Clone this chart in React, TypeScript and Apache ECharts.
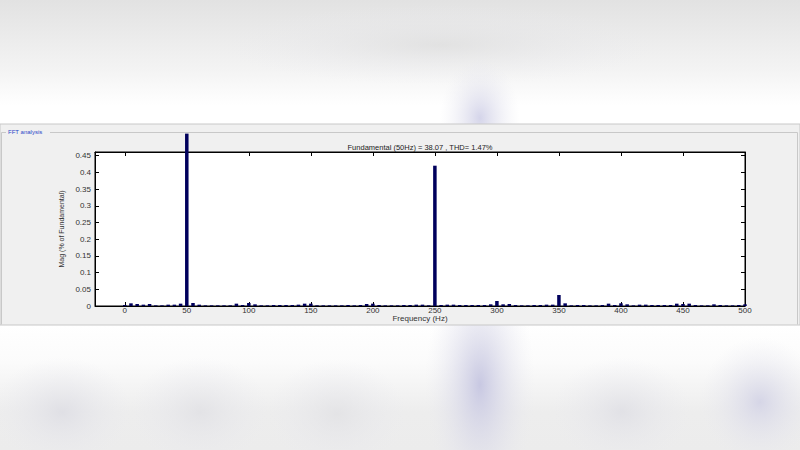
import React, { useEffect, useRef } from "react";
import * as echarts from "echarts";

// Harmonic frequencies (Hz), every 5 Hz from 0 to 500
const frequencies: number[] = [
  0, 5, 10, 15, 20, 25, 30, 35, 40, 45,
  50, 55, 60, 65, 70, 75, 80, 85, 90, 95,
  100, 105, 110, 115, 120, 125, 130, 135, 140, 145,
  150, 155, 160, 165, 170, 175, 180, 185, 190, 195,
  200, 205, 210, 215, 220, 225, 230, 235, 240, 245,
  250, 255, 260, 265, 270, 275, 280, 285, 290, 295,
  300, 305, 310, 315, 320, 325, 330, 335, 340, 345,
  350, 355, 360, 365, 370, 375, 380, 385, 390, 395,
  400, 405, 410, 415, 420, 425, 430, 435, 440, 445,
  450, 455, 460, 465, 470, 475, 480, 485, 490, 495,
  500,
];

// Magnitudes (% of fundamental)
const magnitudes: number[] = [
  0.003, 0.008, 0.006, 0.004, 0.006, 0.002, 0.002, 0.004, 0.004, 0.007,
  0.516, 0.009, 0.004, 0.002, 0.002, 0.002, 0.002, 0.002, 0.007, 0.003,
  0.009, 0.005, 0.002, 0.002, 0.003, 0.003, 0.003, 0.003, 0.004, 0.007,
  0.007, 0.002, 0.002, 0.002, 0.002, 0.002, 0.003, 0.002, 0.003, 0.006,
  0.007, 0.003, 0.002, 0.002, 0.002, 0.003, 0.003, 0.004, 0.004, 0.002,
  0.42, 0.003, 0.004, 0.004, 0.003, 0.003, 0.003, 0.003, 0.003, 0.005,
  0.015, 0.005, 0.006, 0.003, 0.002, 0.002, 0.003, 0.003, 0.004, 0.004,
  0.033, 0.008, 0.002, 0.003, 0.003, 0.002, 0.002, 0.003, 0.007, 0.003,
  0.008, 0.005, 0.002, 0.004, 0.004, 0.003, 0.003, 0.003, 0.003, 0.007,
  0.006, 0.007, 0.003, 0.002, 0.002, 0.005, 0.003, 0.002, 0.002, 0.003,
  0.005,
];

const xTicks: number[] = [0, 50, 100, 150, 200, 250, 300, 350, 400, 450, 500];
const yTicks: number[] = [0, 0.05, 0.1, 0.15, 0.2, 0.25, 0.3, 0.35, 0.4, 0.45];

const titleText = "Fundamental (50Hz) = 38.07 , THD= 1.47%";
const panelTitle = "FFT analysis";
const xName = "Frequency (Hz)";
const yName = "Mag (% of Fundamental)";

const FONT = "'Liberation Sans', Arial, sans-serif";

function blob(cx: number, cy: number, rx: number, ry: number, color: string) {
  return {
    type: "ellipse",
    z: -20,
    silent: true,
    shape: { cx, cy, rx, ry },
    style: {
      fill: {
        type: "radial",
        x: 0.5,
        y: 0.5,
        r: 0.5,
        colorStops: [
          { offset: 0, color },
          { offset: 1, color: "rgba(235,235,240,0)" },
        ],
      },
    },
  };
}

export default function App() {
  const ref = useRef<HTMLDivElement>(null);

  useEffect(() => {
    document.body.style.margin = "0";
    if (!ref.current) return;
    const chart = echarts.init(ref.current, undefined, { renderer: "svg" });

    const axisText = { color: "#333", fontSize: 8, fontFamily: FONT };

    chart.setOption({
      animation: false,
      backgroundColor: "#ffffff",
      textStyle: { fontFamily: FONT },
      title: {
        text: titleText,
        left: 420,
        top: 143,
        padding: 0,
        textAlign: "center",
        textStyle: { fontSize: 7.5, fontWeight: "normal", color: "#222", fontFamily: FONT },
      },
      graphic: [
        // top blurred background
        {
          type: "rect",
          z: -30,
          silent: true,
          shape: { x: 0, y: 0, width: 800, height: 124 },
          style: {
            fill: {
              type: "linear", x: 0, y: 0, x2: 0, y2: 1,
              colorStops: [
                { offset: 0, color: "#e2e2e2" },
                { offset: 0.55, color: "#f3f3f3" },
                { offset: 0.85, color: "#ffffff" },
                { offset: 1, color: "#ffffff" },
              ],
            },
          },
        },
        blob(440, 45, 220, 40, "rgba(218,218,218,0.6)"),
        blob(480, 118, 40, 60, "rgba(205,205,230,0.85)"),
        // bottom blurred background
        {
          type: "rect",
          z: -30,
          silent: true,
          shape: { x: 0, y: 325, width: 800, height: 125 },
          style: {
            fill: {
              type: "linear", x: 0, y: 0, x2: 0, y2: 1,
              colorStops: [
                { offset: 0, color: "#ffffff" },
                { offset: 0.3, color: "#fbfbfb" },
                { offset: 0.7, color: "#ededed" },
                { offset: 1, color: "#ececec" },
              ],
            },
          },
        },
        blob(480, 385, 55, 130, "rgba(200,200,226,1)"),
        blob(62, 412, 70, 55, "rgba(222,222,228,0.9)"),
        blob(200, 412, 70, 55, "rgba(224,224,228,0.8)"),
        blob(337, 414, 70, 55, "rgba(225,225,228,0.8)"),
        blob(622, 412, 70, 55, "rgba(222,222,228,0.8)"),
        blob(760, 402, 60, 65, "rgba(212,212,230,0.95)"),
        // gray panel
        {
          type: "rect",
          z: -10,
          silent: true,
          shape: { x: 0, y: 124, width: 800, height: 201 },
          style: { fill: "#f0f0f0", stroke: "#c8c8c8", lineWidth: 1 },
        },
        // group box
        {
          type: "polyline",
          z: -9,
          silent: true,
          shape: { points: [[50, 132.5], [797.5, 132.5], [797.5, 324.5]] },
          style: { stroke: "#c8c8c8", lineWidth: 1, fill: "none" },
        },
        {
          type: "polyline",
          z: -9,
          silent: true,
          shape: { points: [[6, 132.5], [1.5, 132.5], [1.5, 324.5]] },
          style: { stroke: "#c8c8c8", lineWidth: 1, fill: "none" },
        },
        {
          type: "text",
          z: -8,
          silent: true,
          x: 8,
          y: 132,
          style: {
            text: panelTitle,
            fill: "#2a46c8",
            fontSize: 6,
            fontFamily: FONT,
            textVerticalAlign: "middle",
          },
        },
      ],
      grid: {
        left: 95,
        top: 152,
        width: 650,
        height: 154,
        show: true,
        backgroundColor: "#ffffff",
        borderColor: "#000",
        borderWidth: 1,
      },
      xAxis: [
        {
          type: "value",
          min: -24,
          max: 500,
          name: xName,
          nameLocation: "middle",
          nameGap: 2,
          nameTextStyle: { ...axisText },
          splitLine: { show: false },
          axisLine: { show: true, onZero: false, lineStyle: { color: "#000", width: 1 } },
          axisTick: {
            show: true,
            inside: true,
            length: 4,
            customValues: xTicks,
            lineStyle: { color: "#000" },
          },
          axisLabel: { ...axisText, margin: 0, customValues: xTicks },
        },
        {
          type: "value",
          position: "top",
          min: -24,
          max: 500,
          splitLine: { show: false },
          axisLine: { show: true, onZero: false, lineStyle: { color: "#000", width: 1 } },
          axisTick: {
            show: true,
            inside: true,
            length: 4,
            customValues: xTicks,
            lineStyle: { color: "#000" },
          },
          axisLabel: { show: false },
        },
      ],
      yAxis: [
        {
          type: "value",
          min: 0,
          max: 0.461,
          name: yName,
          nameLocation: "middle",
          nameGap: 29,
          nameTextStyle: { ...axisText, fontSize: 7 },
          splitLine: { show: false },
          axisLine: { show: true, onZero: false, lineStyle: { color: "#000", width: 1 } },
          axisTick: {
            show: true,
            inside: true,
            length: 4,
            customValues: yTicks,
            lineStyle: { color: "#000" },
          },
          axisLabel: {
            ...axisText,
            margin: 4,
            customValues: yTicks,
            formatter: (v: number) => String(Math.round(v * 100) / 100),
          },
        },
        {
          type: "value",
          position: "right",
          min: 0,
          max: 0.461,
          splitLine: { show: false },
          axisLine: { show: true, onZero: false, lineStyle: { color: "#000", width: 1 } },
          axisTick: {
            show: true,
            inside: true,
            length: 4,
            customValues: yTicks,
            lineStyle: { color: "#000" },
          },
          axisLabel: { show: false },
        },
      ],
      series: [
        {
          type: "bar",
          xAxisIndex: 0,
          yAxisIndex: 0,
          clip: false,
          barWidth: 3.5,
          itemStyle: { color: "#00005c" },
          data: frequencies.map((f, i) => [f, magnitudes[i]]),
        },
      ],
    });

    return () => chart.dispose();
  }, []);

  return <div ref={ref} style={{ width: 800, height: 450 }} />;
}
